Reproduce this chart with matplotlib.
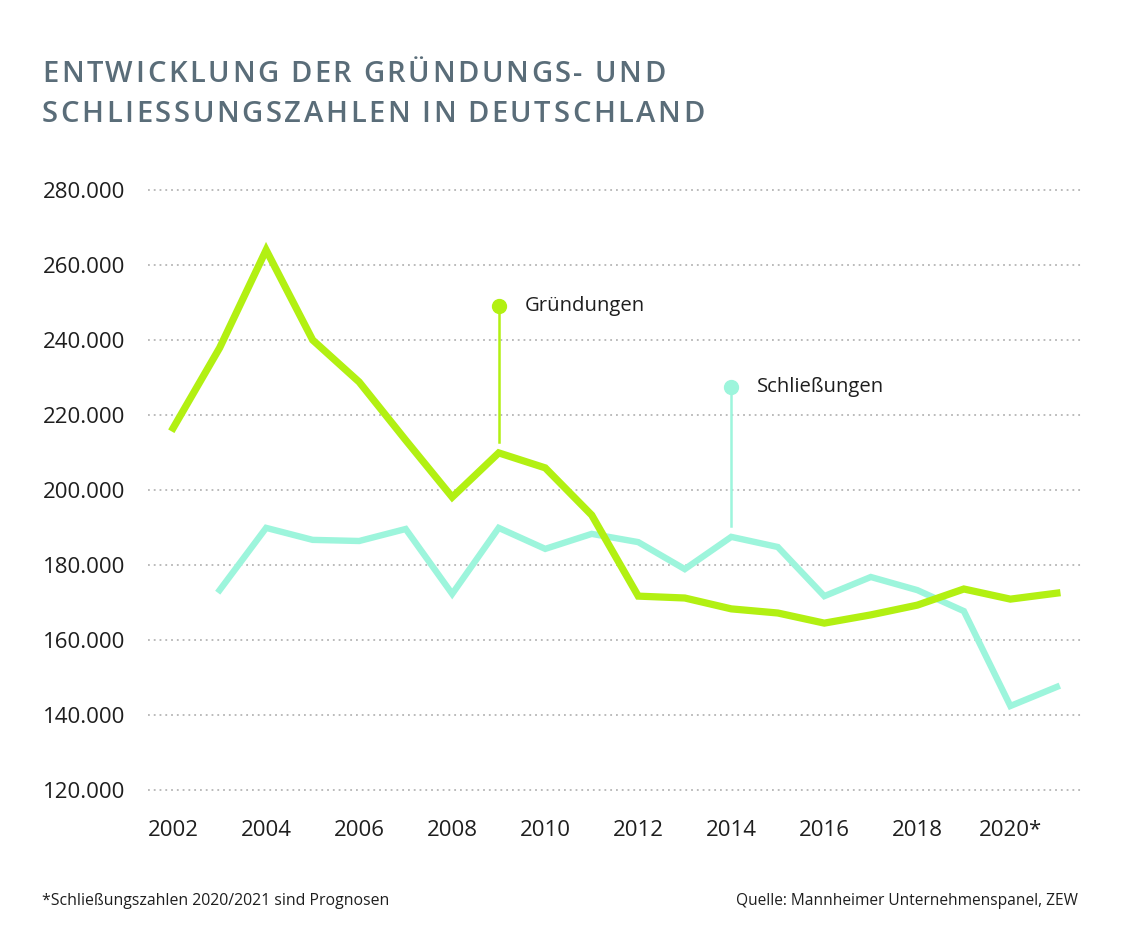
import matplotlib
matplotlib.use("Agg")
import matplotlib.pyplot as plt

# data
jahre = list(range(2002, 2022))
gruendungen = [216500, 237900, 264000, 240000, 228800, 213300, 198100, 209900, 205900, 193300,
               171700, 171200, 168300, 167200, 164500, 166700, 169300, 173600, 170900, 172500]
jahre_schl = list(range(2003, 2022))
schliessungen = [173300, 189900, 186700, 186400, 189600, 172300, 189900, 184300, 188300,
                 186100, 178900, 187500, 184800, 171700, 176800, 173300, 167700, 142400, 147500]

y_ticks = [120000, 140000, 160000, 180000, 200000, 220000, 240000, 260000, 280000]
x_ticks = [2002, 2004, 2006, 2008, 2010, 2012, 2014, 2016, 2018, 2020]
x_labels = ["2002", "2004", "2006", "2008", "2010", "2012", "2014", "2016", "2018", "2020*"]

titel = ["ENTWICKLUNG DER GRÜNDUNGS- UND", "SCHLIESSUNGSZAHLEN IN DEUTSCHLAND"]

GREEN = "#b2f012"
CYAN = "#9df5dc"
TITLE_C = "#5a6d79"
TXT = "#1e1e1e"
FONT = "Open Sans"

W, H = 1128, 947
fig = plt.figure(figsize=(W / 100, H / 100), dpi=100)
plt.rcParams["font.family"] = [FONT, "DejaVu Sans"]

# axes placed in pixel terms
x0, x1 = 2001.46, 2021.54
y0, y1 = 118000, 282000
left, right = 148, 1082
top, bottom = 182.5, 797.5
ax = fig.add_axes([left / W, 1 - bottom / H, (right - left) / W, (bottom - top) / H])
ax.set_xlim(x0, x1)
ax.set_ylim(y0, y1)
for s in ax.spines.values():
    s.set_visible(False)

for yt in y_ticks:
    ax.axhline(yt, color="#b5b5b5", lw=1.3, ls=(0, (1, 2.2)), zorder=1)

ax.plot(jahre_schl, schliessungen, color=CYAN, lw=4.6, solid_joinstyle="miter", zorder=3)
ax.plot(jahre, gruendungen, color=GREEN, lw=5.2, solid_joinstyle="miter", zorder=4)

# annotations
ax.plot([2009, 2009], [212800, 249000], color=GREEN, lw=1.8, zorder=2)
ax.plot(2009, 249000, "o", color=GREEN, ms=10, zorder=5)
ax.text(2009.55, 249000, "Gründungen", fontsize=14.6, color=TXT, va="center", ha="left")
ax.plot([2014, 2014], [190500, 227400], color=CYAN, lw=1.8, zorder=2)
ax.plot(2014, 227400, "o", color=CYAN, ms=10, zorder=5)
ax.text(2014.55, 227400, "Schließungen", fontsize=14.6, color=TXT, va="center", ha="left")

ax.set_yticks(y_ticks)
ax.set_yticklabels([f"{v:,}".replace(",", ".") for v in y_ticks])
ax.set_xticks(x_ticks)
ax.set_xticklabels(x_labels)
ax.tick_params(axis="both", length=0, labelsize=16, labelcolor=TXT)
ax.tick_params(axis="x", pad=16)
ax.tick_params(axis="y", pad=76)
for lbl in ax.get_yticklabels():
    lbl.set_horizontalalignment("left")

# title with letter spacing
renderer = fig.canvas.get_renderer()
def spaced_text(line, x_px, y_px, size, color, track):
    x = x_px
    for ch in line:
        t = fig.text(x / W, 1 - y_px / H, ch, fontsize=size, color=color,
                     ha="left", va="baseline", fontweight="semibold")
        w = t.get_window_extent(renderer).width
        if ch == " ":
            w = size * 0.3
        x += w + track

spaced_text(titel[0], 42, 82, 21, TITLE_C, 2.6)
spaced_text(titel[1], 42, 122, 21, TITLE_C, 2.6)

fig.text(42 / W, 1 - 901 / H, "*Schließungszahlen 2020/2021 sind Prognosen",
         fontsize=11.4, color=TXT, ha="left", va="center")
fig.text(1078 / W, 1 - 901 / H, "Quelle: Mannheimer Unternehmenspanel, ZEW",
         fontsize=11.2, color=TXT, ha="right", va="center")

fig.savefig("out.png", dpi=100, facecolor="white")
